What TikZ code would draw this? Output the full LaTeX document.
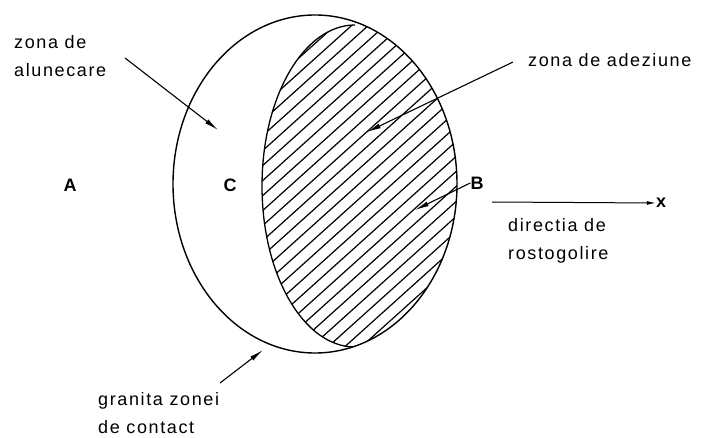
\documentclass[tikz,border=0pt]{standalone}
\usepackage{fontspec}
\setmainfont[LetterSpace=9]{Liberation Sans}
\usetikzlibrary{arrows.meta,positioning,calc}
\tikzset{lbl/.style={align=left,inner sep=0pt,font=\fontsize{18}{28}\selectfont},
  pt/.style={inner sep=0pt,font=\fontsize{18}{22}\selectfont\bfseries},
  arr/.style={-{Latex[length=14pt,width=5pt]},line width=1.1pt},
  hatch/.style={line width=1.2pt}}
\begin{document}
\begin{tikzpicture}[x=1pt,y=1pt]
\useasboundingbox (0,0) rectangle (701,437);
\coordinate (O) at (315,253);
\coordinate (I) at (355,251);
% hatched part of the contact
\begin{scope}
\clip (O) ellipse [x radius=142,y radius=169];
\clip (600,500) -- (355,500) -- (355,412) arc[start angle=90,end angle=270,x radius=93,y radius=161] -- (355,0) -- (600,0) -- cycle;
\foreach \k in {0,...,70}
  \draw[hatch] (200,{-520+15*\k}) -- ++(300,{300*0.9});
\end{scope}
\begin{scope}
\clip (O) ellipse [x radius=142,y radius=169];
\draw[line width=1.3pt] (355,412) arc[start angle=90,end angle=270,x radius=93,y radius=161];
\end{scope}
\draw[line width=1.4pt] (O) ellipse [x radius=142,y radius=169];
\node[lbl,anchor=west] (alun) at (14,381) {zona de\\alunecare};
\node[lbl,anchor=west] (adez) at (528,377) {zona de adeziune};
\node[lbl,anchor=west] (dir) at (508,196) {directia de\\rostogolire};
\node[lbl,anchor=west] (gran) at (98,24) {granita zonei\\de contact};
\node[pt] (A) at (70,252) {A};
\node[pt] (C) at (230,252) {C};
\node[pt] (B) at (477,254) {B};
\node[pt] (x) at (661,234) {x};
\coordinate (s1) at (125,379);
\coordinate (e1) at (218,307);
\coordinate (s2) at (513,375);
\coordinate (e2) at (367,305);
\coordinate (e3) at (415,227);
\coordinate (s4) at (220,54);
\coordinate (e4) at (263,87);
\coordinate (ax) at (492,235);
\draw[arr] (s1) -- (e1);
\draw[arr] (s2) -- (e2);
\draw[arr] (B.west) -- (e3);
\draw[arr] (s4) -- (e4);
\draw[-{Latex[length=9pt,width=4pt]},line width=1pt] (ax) -- (x.west);
\end{tikzpicture}
\end{document}
